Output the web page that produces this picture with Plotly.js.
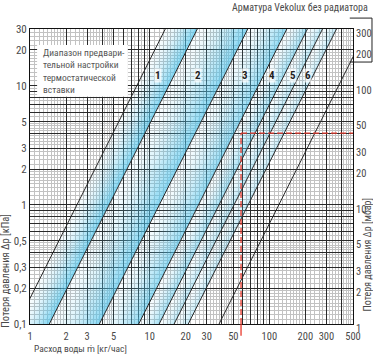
<!DOCTYPE html>
<html><head><meta charset="utf-8">
<script src="https://cdn.plot.ly/plotly-3.0.1.min.js"></script>
<style>html,body{margin:0;padding:0;background:#fff}#chart{width:373px;height:354px}</style>
</head><body><div id="chart"></div>
<script>
// Characteristic lines: flow (kg/h) read at dp = 0.1 kPa and at dp = 30 kPa
const lineNames = ['L1','L2','L3','L4','L5','L6','L7','Vekolux'];
const dpLow = 0.1;
const dpHigh = 30;
const flowAtDpLow = [0.78, 1.45, 3.8, 8.1, 12, 16, 21, 38];
const flowAtDpHigh = [13.5, 25, 66, 140, 208, 278, 364, 655];

// presetting band labels
const bandLabels = ['1','2','3','4','5','6'];
const bandLabelFlow = [11.7, 25.5, 62.5, 106, 158, 209];
const bandLabelDp = [12.3, 12.3, 12.3, 12.3, 12.3, 12.3];

// example (red dashed)
const exampleFlow = 58;
const exampleDp = 4;

// tick labels
const xTickVals = [1,2,3,5,10,20,30,50,100,200,300,500];
const xTickText = ['1','2','3','5','10','20','30','50','100','200','300','500'];
const yTickVals = [0.1,0.2,0.3,0.5,1,2,3,5,10,20,30];
const yTickText = ['0,1','0,2','0,3','0,5','1','2','3','5','10','20','30'];
const y2TickVals = [1,2,3,5,10,20,30,50,100,200,300];
const y2TickText = ['1','2','3','5','10','20','30','50','100','200','300'];

const FONT = '"Liberation Sans Narrow", "Roboto Condensed", Roboto, sans-serif';
const TXT = '#4a4a4a';

function gridVals(lo, hi, mults){
  const out=[];
  for(let e=Math.floor(Math.log10(lo))-1;e<=Math.ceil(Math.log10(hi));e++){
    for(const m of mults){const v=+(m*Math.pow(10,e)).toPrecision(6); if(v>=lo*0.9999&&v<=hi*1.0001) out.push(v);}
  }
  return out;
}
const majorMults=[1,2,3,4,5,6,7,8,9];
const minorMults=[1.1,1.2,1.3,1.4,1.5,1.6,1.7,1.8,1.9,2.2,2.4,2.6,2.8,3.2,3.4,3.6,3.8,4.2,4.4,4.6,4.8,5.5,6.5,7.5,8.5,9.5];
const xMajor=gridVals(1,500,majorMults), xMinor=gridVals(1,500,minorMults);
const yMajor=gridVals(0.1,30,majorMults), yMinor=gridVals(0.1,30,minorMults);
function labels(vals, tv, tt){return vals.map(v=>{const i=tv.indexOf(v);return i>=0?tt[i]:'';});}

const traces=[];
// gradient bands between consecutive lines
const bandMaxAlpha=[0.7,0.65,0.6,0.5,0.35,0.3];
const NSUB=10;
for(let b=0;b<6;b++){
  const lA=Math.log(flowAtDpLow[b]), lB=Math.log(flowAtDpLow[b+1]);
  const hA=Math.log(flowAtDpHigh[b]), hB=Math.log(flowAtDpHigh[b+1]);
  for(let j=0;j<NSUB;j++){
    const f0=j/NSUB,f1=(j+1)/NSUB;
    const a=0.04+bandMaxAlpha[b]*Math.pow((j+0.5)/NSUB,1.6);
    traces.push({type:'scatter',mode:'lines',
      x:[Math.exp(lA+(lB-lA)*f0),Math.exp(hA+(hB-hA)*f0),Math.exp(hA+(hB-hA)*f1),Math.exp(lA+(lB-lA)*f1),Math.exp(lA+(lB-lA)*f0)],
      y:[dpLow,dpHigh,dpHigh,dpLow,dpLow],
      fill:'toself',fillcolor:'rgba(80,196,236,'+a.toFixed(3)+')',line:{width:0},hoverinfo:'skip',showlegend:false});
  }
}
// characteristic lines
for(let i=0;i<lineNames.length;i++){
  traces.push({type:'scatter',mode:'lines',name:lineNames[i],x:[flowAtDpLow[i],flowAtDpHigh[i]],y:[dpLow,dpHigh],
    line:{color:'#2a2a2a',width:1},showlegend:false,hoverinfo:'skip'});
}
// dummy for right axis
traces.push({type:'scatter',mode:'markers',x:[1],y:[1],yaxis:'y2',marker:{opacity:0},showlegend:false,hoverinfo:'skip'});

const red='#e8392c';
const shapes=[
  {type:'rect',xref:'paper',yref:'paper',x0:0.022,x1:0.303,y0:0.77,y1:0.946,fillcolor:'#fff',line:{width:0},layer:'above'},
  {type:'line',xref:'x',yref:'y',x0:exampleFlow,x1:exampleFlow,y0:dpLow,y1:exampleDp,line:{color:red,width:1.3,dash:'6px,3px'},layer:'above'},
  {type:'line',xref:'x',yref:'paper',x0:exampleFlow,x1:exampleFlow,y0:-0.04,y1:0,line:{color:red,width:1.3},layer:'above'},
  {type:'line',xref:'x',yref:'y',x0:exampleFlow,x1:500,y0:exampleDp,y1:exampleDp,line:{color:red,width:1.3,dash:'6px,3px'},layer:'above'},
  {type:'path',xref:'paper',yref:'paper',path:'M 0.99,1.037 L 1.0588,1.037 L 1.0588,0.888 L 0.99,0.888',line:{color:'#222',width:1},layer:'above'}
];

const annotations=[
  {xref:'paper',yref:'paper',x:0.035,y:0.945,xanchor:'left',yanchor:'top',align:'left',showarrow:false,
   text:'Диапазон предвари-<br>тельной настройки<br>термостатической<br>вставки',font:{family:FONT,size:9.5,color:'#555'}},
  {xref:'paper',yref:'paper',x:1.053,y:1.072,xanchor:'right',yanchor:'middle',showarrow:false,
   text:'Арматура Vekolux без радиатора',font:{family:FONT,size:10,color:TXT}},
  {xref:'paper',yref:'paper',x:0.006,y:-0.0825,xanchor:'left',yanchor:'middle',showarrow:false,
   text:'Расход воды ṁ [кг/час]',font:{family:FONT,size:9.5,color:TXT}},
  {xref:'paper',yref:'paper',x:-0.075,y:-0.02,xanchor:'center',yanchor:'bottom',textangle:-90,showarrow:false,
   text:'Потеря давления Δp [кПа]',font:{family:FONT,size:10.5,color:TXT}},
  {xref:'paper',yref:'paper',x:1.044,y:0.035,xanchor:'center',yanchor:'bottom',textangle:-90,showarrow:false,
   text:'Потеря давления Δp [мбар]',font:{family:FONT,size:10,color:TXT}}
];
for(let i=0;i<bandLabels.length;i++){
  annotations.push({xref:'x',yref:'y',x:Math.log10(bandLabelFlow[i]),y:Math.log10(bandLabelDp[i]),showarrow:false,
    text:'<b>'+bandLabels[i]+'</b>',font:{family:FONT,size:11,color:'#222'},bgcolor:'rgba(255,255,255,0.7)',borderpad:0});
}

const axBase={type:'log',showline:true,linecolor:'#111',linewidth:1,mirror:true,ticks:'',zeroline:false,
  tickfont:{family:FONT,size:11,color:TXT},gridcolor:'#2a2a2a',gridwidth:1};

const layout={width:373,height:354,margin:{l:30,r:20,t:29,b:30},paper_bgcolor:'#fff',plot_bgcolor:'#fff',
  showlegend:false,font:{family:FONT},
  xaxis:Object.assign({},axBase,{range:[0,Math.log10(500)],tickmode:'array',tickvals:xMajor,ticktext:labels(xMajor,xTickVals,xTickText),
    ticklabelstandoff:2,tickfont:{family:FONT,size:10.5,color:TXT},
    minor:{tickmode:'array',tickvals:xMinor,showgrid:true,gridcolor:'#c2c2c2',gridwidth:1,ticks:''}}),
  yaxis:Object.assign({},axBase,{range:[-1,Math.log10(30)],tickmode:'array',tickvals:yMajor,ticktext:labels(yMajor,yTickVals,yTickText),
    minor:{tickmode:'array',tickvals:yMinor,showgrid:true,gridcolor:'#c2c2c2',gridwidth:1,ticks:''}}),
  yaxis2:{type:'log',overlaying:'y',side:'right',range:[0,Math.log10(300)],tickmode:'array',tickvals:y2TickVals,ticktext:y2TickText,
    ticklabelshift:4,
    showgrid:false,showline:true,linecolor:'#111',ticks:'',zeroline:false,tickfont:{family:FONT,size:10.5,color:TXT}},
  shapes:shapes,annotations:annotations};

Plotly.newPlot('chart',traces,layout,{staticPlot:true,displayModeBar:false});
</script></body></html>
